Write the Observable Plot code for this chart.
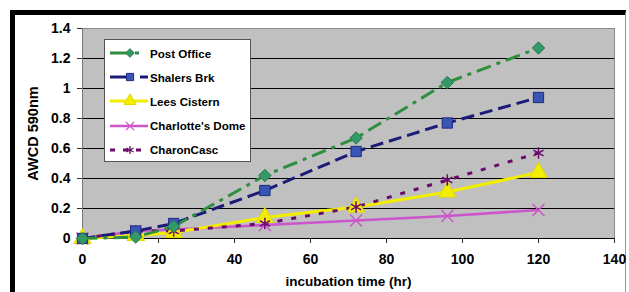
<!DOCTYPE html>
<html>
<head>
<meta charset="utf-8">
<script src="https://cdn.jsdelivr.net/npm/d3@7"></script>
<script src="https://cdn.jsdelivr.net/npm/@observablehq/plot@0.6"></script>
<style>
  html, body { margin: 0; padding: 0; background: white; }
  #wrap { position: relative; width: 629px; height: 292px; overflow: hidden; font-family: "Liberation Sans", Arial, sans-serif; }
  #border { position: absolute; left: 10px; top: 10px; right: 3px; bottom: -10px; border-top: 5px solid #000; border-left: 5px solid #000; border-right: 1px solid #999; }
  #chart { position: absolute; left: 0; top: 0; }
  #legend { position: absolute; left: 104px; top: 39px; width: 147px; height: 123px; background: #fff; border: 1px solid #555; box-sizing: border-box; }
  .item { position: absolute; left: 0; height: 16px; display: flex; align-items: center; font-weight: bold; font-size: 11.6px; color: #000; white-space: nowrap; }
  .item svg { margin-left: 5px; margin-right: 2px; }
</style>
</head>
<body>
<div id="wrap">
  <div id="border"></div>
  <div id="chart"></div>
  <div id="legend"></div>
</div>
<script>
// ---- data ----
const hours = [0, 14, 24, 48, 72, 96, 120];
const seriesNames = ["Post Office", "Shalers Brk", "Lees Cistern", "Charlotte's Dome", "CharonCasc"];
const postOffice = [0, 0.01, 0.08, 0.42, 0.67, 1.04, 1.27];
const shalersBrk = [0, 0.05, 0.10, 0.32, 0.58, 0.77, 0.94];
const leesCistern = [0, 0.02, 0.04, 0.14, 0.21, 0.31, 0.44];
const charlottesDome = [0, 0.05, 0.06, 0.09, 0.12, 0.15, 0.19];
const charonCasc = [0, 0.05, 0.05, 0.10, 0.21, 0.39, 0.57];
const xTicks = [0, 20, 40, 60, 80, 100, 120, 140];
const yTicks = [0, 0.2, 0.4, 0.6, 0.8, 1, 1.2, 1.4];
const xLabel = "incubation time (hr)";
const yLabel = "AWCD 590nm";

const valuesBySeries = [postOffice, shalersBrk, leesCistern, charlottesDome, charonCasc];

// ---- styles ----
const styles = {
  "Post Office":      {line: "#2f8f3f", width: 3,   dash: "15,6,4,6", symbol: "diamond2", fill: "#339966", stroke: "#2a7a50", r: 5.6},
  "Shalers Brk":      {line: "#1c1c78", width: 3,   dash: "13,6",     symbol: "square",   fill: "#3a56b4", stroke: "#1c2a80", r: 5.8},
  "Lees Cistern":     {line: "#f2ee00", width: 3,   dash: null,       symbol: "triangle", fill: "#f2ee00", stroke: "#e0d800", r: 6.5},
  "Charlotte's Dome": {line: "#cc55cc", width: 2.5, dash: null,       symbol: "times",    fill: "none",    stroke: "#cc55cc", r: 5.5},
  "CharonCasc":       {line: "#6a0a6a", width: 3,   dash: "5,9",      symbol: "asterisk", fill: "none",    stroke: "#6a0a6a", r: 5.5}
};

const rows = [];
seriesNames.forEach((name, s) => {
  hours.forEach((h, i) => rows.push({series: name, hour: h, value: valuesBySeries[s][i]}));
});

const font = "Liberation Sans, Arial, sans-serif";

const marks = [
  Plot.frame({fill: "#c0c0c0", stroke: "#8a8a8a"}),
  Plot.ruleY(yTicks.filter(d => d > 0 && d < 1.4), {stroke: "#000", strokeWidth: 1}),
  Plot.ruleY([0], {stroke: "#000", strokeWidth: 1}),
  Plot.ruleX([0], {stroke: "#777", strokeWidth: 1}),
  Plot.axisY({ticks: yTicks, tickSize: 5, tickPadding: 7, tickFormat: d => String(+d.toFixed(1)),
    fontSize: 14, fontWeight: "bold", label: null, stroke: "#333"}),
  Plot.axisX({ticks: xTicks, tickSize: 5, tickPadding: 11, tickFormat: d => String(d),
    fontSize: 14, fontWeight: "bold", label: null, stroke: "#333"}),
  Plot.text([xLabel], {frameAnchor: "bottom", dy: 47, text: d => d, fontSize: 13.5, fontWeight: "bold", fill: "#000"}),
  Plot.text([yLabel], {frameAnchor: "left", textAnchor: "middle", dx: -49, rotate: -90, text: d => d, fontSize: 14.5, fontWeight: "bold", fill: "#000"})
];

const order = ["Charlotte's Dome", "Lees Cistern", "CharonCasc", "Shalers Brk", "Post Office"];
for (const name of order) {
  const st = styles[name];
  const data = rows.filter(r => r.series === name);
  marks.push(Plot.line(data, {x: "hour", y: "value", stroke: st.line, strokeWidth: st.width,
    strokeDasharray: st.dash || undefined, strokeLinecap: "butt"}));
}
for (const name of order) {
  const st = styles[name];
  const data = rows.filter(r => r.series === name);
  marks.push(Plot.dot(data, {x: "hour", y: "value", symbol: () => st.symbol, r: st.r,
    fill: st.fill, stroke: st.stroke, strokeWidth: (st.fill === "none" ? 1.5 : 1)}));
}

const chart = Plot.plot({
  width: 629,
  height: 292,
  marginLeft: 82,
  marginRight: 15,
  marginTop: 28,
  marginBottom: 54,
  style: {background: "transparent", fontFamily: font, color: "#000", overflow: "visible"},
  x: {domain: [0, 140]},
  y: {domain: [0, 1.4]},
  symbol: {type: "identity"},
  marks
});
document.getElementById("chart").appendChild(chart);

// ---- legend ----
const legend = document.getElementById("legend");
const symbolMap = {diamond2: d3.symbolDiamond2, square: d3.symbolSquare, triangle: d3.symbolTriangle, times: d3.symbolTimes, asterisk: d3.symbolAsterisk};
seriesNames.forEach((name, i) => {
  const st = styles[name];
  const item = document.createElement("div");
  item.className = "item";
  item.style.top = (5 + i * 24.2) + "px";
  const ns = "http://www.w3.org/2000/svg";
  const svg = document.createElementNS(ns, "svg");
  svg.setAttribute("width", 38);
  svg.setAttribute("height", 14);
  const line = document.createElementNS(ns, "line");
  line.setAttribute("x1", 0); line.setAttribute("x2", 38);
  line.setAttribute("y1", 7); line.setAttribute("y2", 7);
  line.setAttribute("stroke", st.line);
  line.setAttribute("stroke-width", st.width);
  if (st.dash) line.setAttribute("stroke-dasharray", name === "Post Office" ? "20,5,4,9" : name === "Shalers Brk" ? "20,10,8" : "5,8");
  svg.appendChild(line);
  const p = document.createElementNS(ns, "path");
  const rr = st.r * 0.7;
  p.setAttribute("d", d3.symbol(symbolMap[st.symbol], Math.PI * rr * rr)());
  p.setAttribute("transform", "translate(20,7)");
  p.setAttribute("fill", st.fill);
  p.setAttribute("stroke", st.stroke);
  p.setAttribute("stroke-width", st.fill === "none" ? 1.3 : 1);
  svg.appendChild(p);
  item.appendChild(svg);
  const t = document.createElement("span");
  t.textContent = name;
  item.appendChild(t);
  legend.appendChild(item);
});
</script>
</body>
</html>
